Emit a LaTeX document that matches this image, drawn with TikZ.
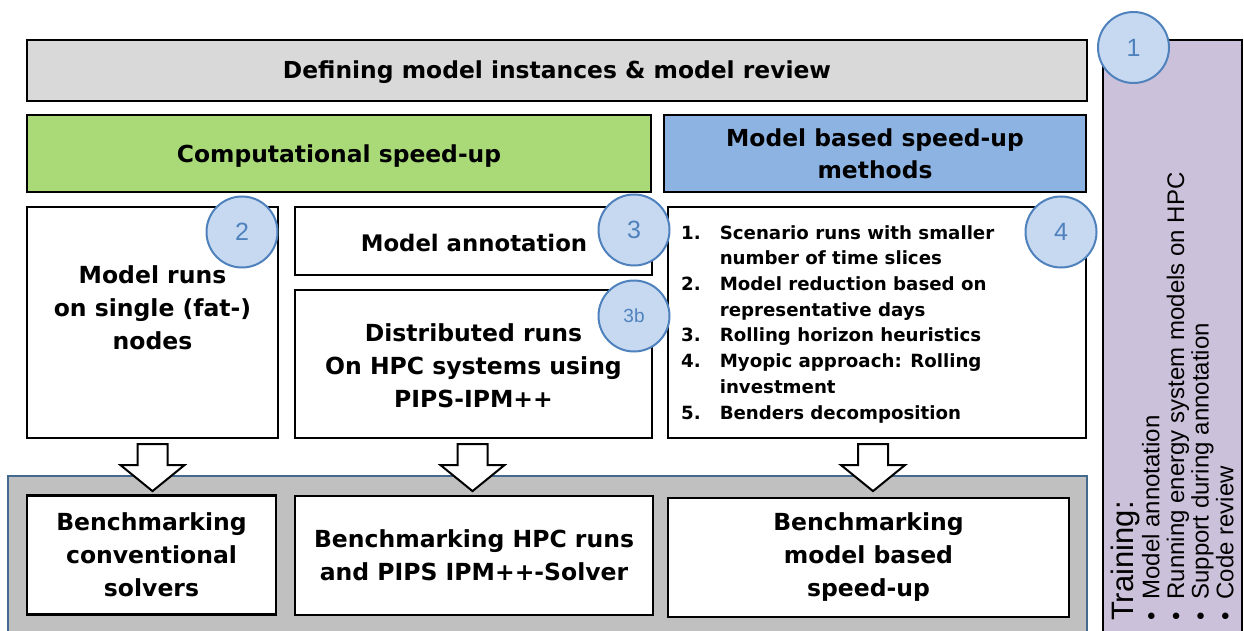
\documentclass[tikz,border=0pt]{standalone}
\usepackage{fontspec}
\setmainfont{DejaVu Sans}
\newfontfamily\arialfont{Liberation Sans}
\usetikzlibrary{calc}

\definecolor{topgray}{HTML}{D9D9D9}
\definecolor{speedgreen}{HTML}{A9DA77}
\definecolor{speedblue}{HTML}{8DB3E2}
\definecolor{benchgray}{HTML}{C0C0C0}
\definecolor{benchedge}{HTML}{44698F}
\definecolor{trainpurple}{HTML}{CCC1DA}
\definecolor{badgefill}{HTML}{C6D9F1}
\definecolor{badgeedge}{HTML}{4F81BD}

\tikzset{
  panel/.style={draw=black, line width=2.2pt, rectangle, inner sep=0pt, align=center},
  bigtext/.style={font=\bfseries\fontsize{23.5}{33}\selectfont, align=center},
  badge/.style={circle, draw=badgeedge, fill=badgefill, line width=2pt,
    minimum size=71pt, inner sep=0pt, text=badgeedge,
    font=\arialfont\fontsize{25}{25}\selectfont},
  blockarrow/.style={draw=black, fill=white, line width=2pt, line join=miter}
}

\begin{document}
\begin{tikzpicture}[x=1pt, y=-1pt]
\useasboundingbox (0,0) rectangle (1244,631);

% header row
\node[panel, fill=topgray, minimum width=1060pt, minimum height=61pt] (define) at (557,70.5) {};
\node[font=\bfseries\fontsize{23.4}{28}\selectfont] (definetxt) at (557,72)
  {Defining model instances \& model review};

\node[panel, fill=speedgreen, minimum width=624pt, minimum height=77pt] (comp) at (339,153.5) {};
\node[font=\bfseries\fontsize{23.4}{28}\selectfont] (comptxt) at (339,156)
  {Computational speed-up};

\node[panel, fill=speedblue, minimum width=422pt, minimum height=77pt,
  font=\bfseries\fontsize{23.4}{32}\selectfont] (model) at (875,153.5)
  {Model based speed-up\\methods};

% method boxes
\node[panel, minimum width=251pt, minimum height=231pt] (single) at (152.5,322.5) {};
\node[bigtext] (singletxt) at (152.5,308) {Model runs\\on single (fat-)\\nodes};

\node[panel, minimum width=357pt, minimum height=68pt] (annot) at (473.5,241) {};
\node[font=\bfseries\fontsize{22.8}{28}\selectfont] (annottxt) at (474,243) {Model annotation};

\node[panel, minimum width=357pt, minimum height=148pt] (distr) at (473.5,364) {};
\node[bigtext] (distrtxt) at (473.5,366) {Distributed runs\\On HPC systems using\\PIPS-IPM++};

\node[panel, minimum width=418pt, minimum height=231pt] (list) at (877,322.5) {};
\node[anchor=west, inner sep=0pt, font=\bfseries\fontsize{18.2}{25.7}\selectfont] (listtxt) at (681,324)
  {\begin{tabular}{@{}l@{\hspace{19pt}}l@{}}
   1. & Scenario runs with smaller\\
      & number of time slices\\
   2. & Model reduction based on\\
      & representative days\\
   3. & Rolling horizon heuristics\\
   4. & Myopic approach: Rolling\\
      & investment\\
   5. & Benders decomposition
   \end{tabular}};

% benchmarking area
\node[draw=benchedge, fill=benchgray, line width=2pt, minimum width=1079pt,
  minimum height=180pt, inner sep=0pt] (bench) at (547.5,566) {};

\foreach \src/\dx in {single/0, distr/-1, list/-4} {
  \draw[blockarrow] ($(\src.south)+(\dx,5)$) ++(-15,0) -- ++(0,21) -- ++(-17,0)
    -- ++(32,26) -- ++(32,-26) -- ++(-17,0) -- ++(0,-21) -- cycle;
}

\node[panel, fill=white, minimum width=249pt, minimum height=119pt, bigtext] (b1) at (151.5,555)
  {Benchmarking\\conventional\\solvers};
\node[panel, fill=white, minimum width=358pt, minimum height=119pt, bigtext] (b2) at (474,555.5)
  {Benchmarking HPC runs\\and PIPS IPM++-Solver};
\node[panel, fill=white, minimum width=401pt, minimum height=119pt, bigtext] (b3) at (868.5,557.5)
  {Benchmarking\\model based\\speed-up};

% training column
\node[draw=black, fill=trainpurple, line width=2.2pt, minimum width=139pt,
  minimum height=640pt, inner sep=0pt] (train) at (1172.5,360) {};
\node[rotate=90, anchor=north west, inner sep=0pt,
  font=\arialfont\fontsize{24}{24.3}\selectfont] (traintxt) at (1111,621)
  {\begin{tabular}{@{}l@{\hspace{13pt}}l@{}}
   \multicolumn{2}{@{}l@{}}{\fontsize{31}{31}\selectfont Training:}\\[1pt]
   \textbullet & Model annotation\\
   \textbullet & Running energy system models on HPC\\
   \textbullet & Support during annotation\\
   \textbullet & Code review
   \end{tabular}};

% numbered badges
\node[badge] (n1) at (1133.5,47.5) {1};
\node[badge] (n2) at (242,232) {2};
\node[badge] (n3) at (634,230) {3};
\node[badge, font=\arialfont\fontsize{19}{19}\selectfont] (n3b) at (634,316) {3b};
\node[badge] (n4) at (1061,232) {4};
\end{tikzpicture}
\end{document}
